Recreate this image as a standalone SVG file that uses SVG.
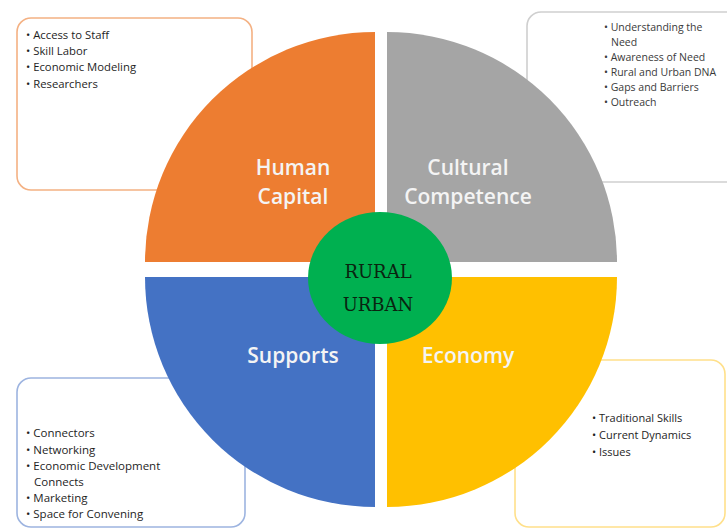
<svg xmlns="http://www.w3.org/2000/svg" width="727" height="529" viewBox="0 0 727 529">
<style>
.box{fill:#fff;stroke-width:1.6}
.item{font-family:"Open Sans","Liberation Sans",sans-serif;font-size:11.3px;fill:#1e1e1e}
.qlabel{font-family:"Open Sans","Liberation Sans",sans-serif;font-size:21px;font-weight:600;fill:#f4f4f4;text-anchor:middle}
.center{font-family:"DejaVu Serif","Liberation Serif",serif;font-size:18px;fill:#0a2410;text-anchor:middle}
</style>
<rect width="727" height="529" fill="#fff"/>
<g id="box-human-capital">
<rect class="box" x="17" y="18" width="235" height="172" rx="14" stroke="#f4b183"/>
<text class="item"><tspan x="26" y="38.5">• Access to Staff</tspan><tspan x="26" y="54.5">• Skill Labor</tspan><tspan x="26" y="71">• Economic Modeling</tspan><tspan x="26" y="87.5">• Researchers</tspan></text>
</g>
<g id="box-cultural-competence">
<rect class="box" x="527" y="12" width="215" height="170" rx="14" stroke="#cfcfcf"/>
<text class="item" style="font-size:10.5px;fill:#3a3a3a"><tspan x="604" y="31">• Understanding the</tspan><tspan x="611" y="45.5">Need</tspan><tspan x="604" y="61">• Awareness of Need</tspan><tspan x="604" y="76">• Rural and Urban DNA</tspan><tspan x="604" y="91">• Gaps and Barriers</tspan><tspan x="604" y="106">• Outreach</tspan></text>
</g>
<g id="box-supports">
<rect class="box" x="17" y="378" width="228" height="149" rx="14" stroke="#9db4e0"/>
<text class="item" style="font-size:11.5px"><tspan x="26" y="437">• Connectors</tspan><tspan x="26" y="454">• Networking</tspan><tspan x="26" y="470">• Economic Development</tspan><tspan x="34" y="486">Connects</tspan><tspan x="26" y="502">• Marketing</tspan><tspan x="26" y="518">• Space for Convening</tspan></text>
</g>
<g id="box-economy">
<rect class="box" x="515" y="360" width="210" height="167" rx="14" stroke="#ffe08a"/>
<text class="item" style="font-size:11px"><tspan x="592" y="422">• Traditional Skills</tspan><tspan x="592" y="439">• Current Dynamics</tspan><tspan x="592" y="456">• Issues</tspan></text>
</g>
<g id="q-human-capital">
<path d="M375,262 L145,262 A230,230 0 0 1 375,32 Z" fill="#ed7d31"/>
<text class="qlabel"><tspan x="293" y="175">Human</tspan><tspan x="293" y="204">Capital</tspan></text>
</g>
<g id="q-cultural-competence">
<path d="M387,262 L387,32 A230,230 0 0 1 617,262 Z" fill="#a5a5a5"/>
<text class="qlabel"><tspan x="468" y="175">Cultural</tspan><tspan x="468" y="204">Competence</tspan></text>
</g>
<g id="q-supports">
<path d="M375,277 L375,507 A230,230 0 0 1 145,277 Z" fill="#4472c4"/>
<text class="qlabel" x="293" y="363">Supports</text>
</g>
<g id="q-economy">
<path d="M387,277 L617,277 A230,230 0 0 1 387,507 Z" fill="#ffc000"/>
<text class="qlabel" x="468" y="363">Economy</text>
</g>
<g id="center-rural-urban">
<ellipse cx="380" cy="278" rx="72" ry="66" fill="#00b050"/>
<text class="center"><tspan x="378" y="278">RURAL</tspan><tspan x="378" y="311">URBAN</tspan></text>
</g>
</svg>
